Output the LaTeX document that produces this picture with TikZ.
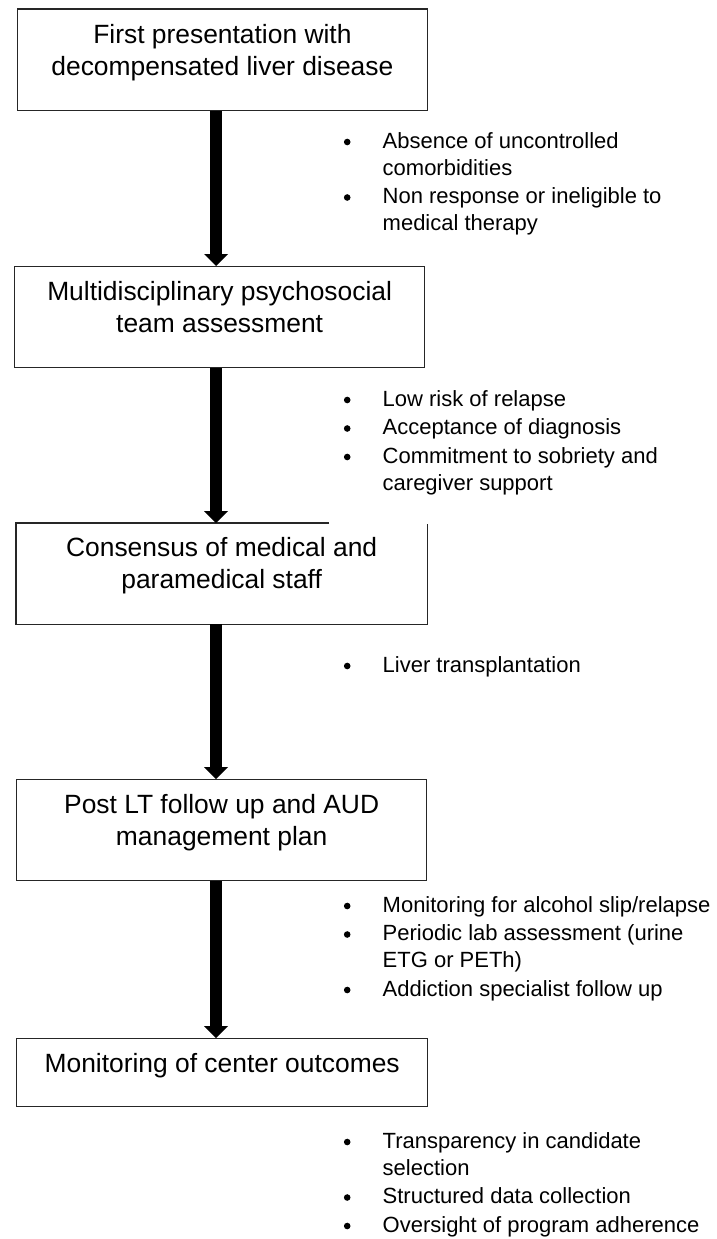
\documentclass[tikz,border=0pt]{standalone}
\usepackage{fontspec}
\setmainfont{Liberation Sans}
\usetikzlibrary{arrows.meta}
\newcommand\fbfont{\fontsize{26.4}{32.3}\selectfont}
\newcommand\blfont{\fontsize{22}{27}\selectfont}
\newcommand\blt{\makebox[39.5pt][l]{\hspace*{0.7pt}\tikz[baseline=0pt]\fill (3.3pt,6pt) circle[radius=3.3pt];}}
\begin{document}
\begin{tikzpicture}[x=1pt,y=-1pt,
  boxline/.style={line width=1.3pt, draw=black!85},
  flowbox/.style={boxline, anchor=north west, inner sep=0pt, font=\fbfont},
  bigarrow/.style={line width=12pt, -{Triangle[length=12pt,width=24pt,line width=0pt]}},
  bullets/.style={anchor=base west, inner sep=0pt, font=\blfont, align=left}]
\useasboundingbox[fill=white] (0,0) rectangle (716,1239);

% boxes
\node[flowbox, text height=34pt, text depth=67pt] (b1) at (16.5,8.5)
  {\parbox[t]{410.5pt}{\centering First presentation with\\decompensated liver disease}};
\node[flowbox, text height=34pt, text depth=67pt] (b2) at (14,266)
  {\parbox[t]{410pt}{\centering Multidisciplinary psychosocial\\team assessment}};
\node[flowbox, draw=none, text height=33pt, text depth=67pt] (b3) at (16,523)
  {\parbox[t]{410pt}{\centering Consensus of medical and\\paramedical staff}};
\draw[boxline] ([xshift=313pt]b3.north west) -- (b3.north west) -- (b3.south west)
  -- (b3.south east) -- ([yshift=-1pt]b3.north east);
\node[flowbox, text height=34pt, text depth=67pt] (b4) at (16,779)
  {\parbox[t]{410pt}{\centering Post LT follow up and AUD\\management plan}};
\node[flowbox, text height=34pt, text depth=34pt] (b5) at (16,1038)
  {\parbox[t]{411pt}{\centering Monitoring of center outcomes}};

% arrows
\coordinate (ax) at (216,0);
\draw[bigarrow] (b1.south -| ax) -- (b2.north -| ax);
\draw[bigarrow] (b2.south -| ax) -- (b3.north -| ax);
\draw[bigarrow] (b3.south -| ax) -- (b4.north -| ax);
\draw[bigarrow] (b4.south -| ax) -- (b5.north -| ax);

% bullet lists
\node[bullets] (l1) at (343,148) {\begin{tabular}[t]{@{}l@{}}
  \blt Absence of uncontrolled\\ \hspace*{39.5pt}comorbidities\\[1.5pt]
  \blt Non response or ineligible to\\ \hspace*{39.5pt}medical therapy\end{tabular}};
\node[bullets] (l2) at (343,406) {\begin{tabular}[t]{@{}l@{}}
  \blt Low risk of relapse\\[1.5pt]
  \blt Acceptance of diagnosis\\[1.5pt]
  \blt Commitment to sobriety and\\ \hspace*{39.5pt}caregiver support\end{tabular}};
\node[bullets] (l3) at (343,672) {\begin{tabular}[t]{@{}l@{}}
  \blt Liver transplantation\end{tabular}};
\node[bullets] (l4) at (343,912) {\begin{tabular}[t]{@{}l@{}}
  \blt Monitoring for alcohol slip/relapse\\[1.5pt]
  \blt Periodic lab assessment (urine\\ \hspace*{39.5pt}ETG or PETh)\\[1.5pt]
  \blt Addiction specialist follow up\end{tabular}};
\node[bullets] (l5) at (343,1148) {\begin{tabular}[t]{@{}l@{}}
  \blt Transparency in candidate\\ \hspace*{39.5pt}selection\\[1.5pt]
  \blt Structured data collection\\[1.5pt]
  \blt Oversight of program adherence\end{tabular}};
\end{tikzpicture}
\end{document}
